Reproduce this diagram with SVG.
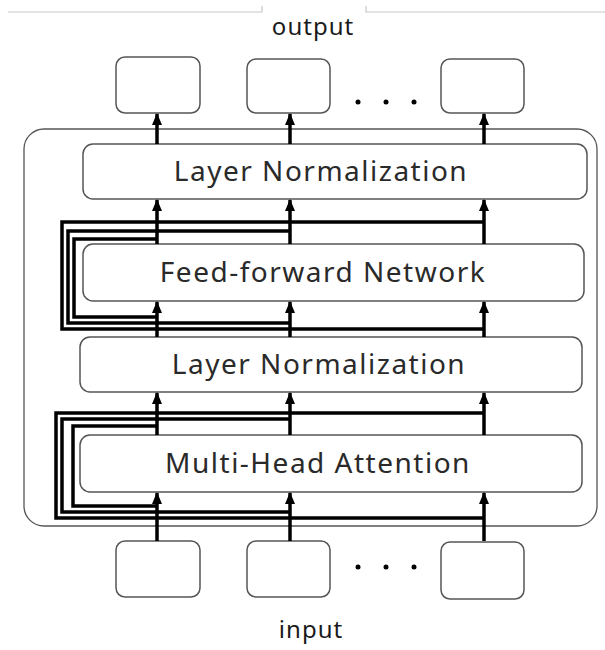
<svg xmlns="http://www.w3.org/2000/svg" width="605" height="650" viewBox="0 0 605 650">
<defs>
<marker id="ah" viewBox="0 0 12 10" refX="11" refY="5" markerWidth="12" markerHeight="10" markerUnits="userSpaceOnUse" orient="auto">
<path d="M0,0 L12,5 L0,10 Z" fill="#000"/>
</marker>
<style>
.box{fill:#fff;stroke:#555;stroke-width:1.5}
.outer{fill:none;stroke:#555;stroke-width:1.3}
.lbl{font-family:"Noto Sans","Noto Sans CJK JP",sans-serif;font-size:28px;fill:#2a2a2a;text-anchor:middle;letter-spacing:1.5px}
.io{font-family:"Noto Sans","Noto Sans CJK JP",sans-serif;font-size:24px;fill:#1a1a1a;text-anchor:middle;letter-spacing:1px}
.arr{stroke:#000;stroke-width:3.5;fill:none}
.res{stroke:#000;stroke-width:3.5;fill:none;stroke-linejoin:miter}
.dot{fill:#000}
.tab{stroke:#c8c8c8;stroke-width:1.2;fill:none}
</style>
</defs>
<rect width="605" height="650" fill="#fff"/>
<g id="tab">
<path class="tab" d="M8,12 H262 V6 M366,6 V12 H605"/>
</g>
<text class="io" x="313" y="35">output</text>
<g id="container"><rect class="outer" x="24" y="129" width="573" height="397" rx="20"/></g>
<g id="out1"><rect class="box" x="116" y="57" width="84" height="56" rx="9"/></g>
<g id="out2"><rect class="box" x="247" y="59" width="83" height="54" rx="9"/></g>
<g id="out3"><rect class="box" x="441" y="59" width="83" height="54" rx="9"/></g>
<g id="outdots"><circle class="dot" cx="358" cy="102" r="2.5"/><circle class="dot" cx="386" cy="102" r="2.5"/><circle class="dot" cx="414" cy="102" r="2.5"/></g>
<g id="ln1"><rect class="box" x="83" y="144" width="504" height="55" rx="10"/><text class="lbl" x="321" y="181">Layer Normalization</text></g>
<g id="ffn"><rect class="box" x="83" y="244" width="501" height="57" rx="10"/><text class="lbl" x="323" y="282">Feed-forward Network</text></g>
<g id="ln2"><rect class="box" x="80" y="337" width="502" height="55" rx="10"/><text class="lbl" x="319" y="374">Layer Normalization</text></g>
<g id="mha"><rect class="box" x="80" y="435" width="502" height="57" rx="10"/><text class="lbl" x="318" y="473">Multi-Head Attention</text></g>
<g id="in1"><rect class="box" x="116" y="541" width="84" height="56" rx="9"/></g>
<g id="in2"><rect class="box" x="247" y="541" width="83" height="56" rx="9"/></g>
<g id="in3"><rect class="box" x="441" y="542" width="83" height="57" rx="9"/></g>
<g id="indots"><circle class="dot" cx="358" cy="567" r="2.5"/><circle class="dot" cx="386" cy="567" r="2.5"/><circle class="dot" cx="414" cy="567" r="2.5"/></g>
<text class="io" x="311" y="638">input</text>
<g id="connectors">
<path class="arr" marker-end="url(#ah)" d="M157,541 V493"/>
<path class="arr" marker-end="url(#ah)" d="M290,541 V493"/>
<path class="arr" marker-end="url(#ah)" d="M484,541 V493"/>
<path class="arr" marker-end="url(#ah)" d="M157,435 V393"/>
<path class="arr" marker-end="url(#ah)" d="M290,435 V393"/>
<path class="arr" marker-end="url(#ah)" d="M484,435 V393"/>
<path class="arr" marker-end="url(#ah)" d="M157,337 V302"/>
<path class="arr" marker-end="url(#ah)" d="M290,337 V302"/>
<path class="arr" marker-end="url(#ah)" d="M484,337 V302"/>
<path class="arr" marker-end="url(#ah)" d="M157,244 V200"/>
<path class="arr" marker-end="url(#ah)" d="M290,244 V200"/>
<path class="arr" marker-end="url(#ah)" d="M484,244 V200"/>
<path class="arr" marker-end="url(#ah)" d="M157,144 V114"/>
<path class="arr" marker-end="url(#ah)" d="M290,144 V114"/>
<path class="arr" marker-end="url(#ah)" d="M484,144 V114"/>
<path class="res" d="M157,506 H73 V426 H157"/>
<path class="res" d="M290,512 H62 V419 H290"/>
<path class="res" d="M484,518 H56 V413 H484"/>
<path class="res" d="M157,317 H74 V239 H157"/>
<path class="res" d="M290,323 H68 V231 H290"/>
<path class="res" d="M484,329 H62 V222 H484"/>
</g>
</svg>
